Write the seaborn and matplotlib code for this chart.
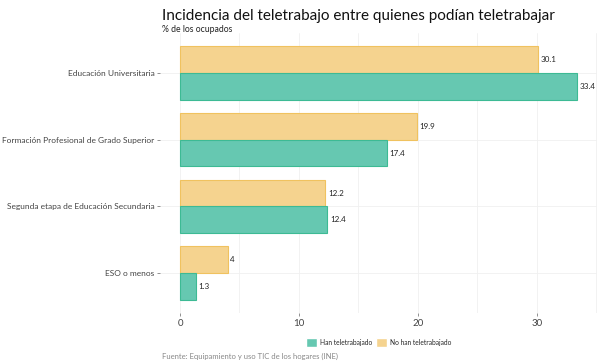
import pandas as pd
import numpy as np
import seaborn as sns
import matplotlib.pyplot as plt
from matplotlib.ticker import MultipleLocator

# datos
categorias = ['Educación Universitaria', 'Formación Profesional de Grado Superior',
              'Segunda etapa de Educación Secundaria', 'ESO o menos']
han_teletrabajado = [33.4, 17.4, 12.4, 1.3]
no_han_teletrabajado = [30.1, 19.9, 12.2, 4]
series = ['Han teletrabajado', 'No han teletrabajado']

df = pd.DataFrame({
    'nivel': categorias * 2,
    'valor': han_teletrabajado + no_han_teletrabajado,
    'grupo': [series[0]] * 4 + [series[1]] * 4,
})

sns.set_theme(style='white')
plt.rcParams['font.family'] = ['Lato', 'DejaVu Sans']

fig = plt.figure(figsize=(6, 3.64), dpi=100)
ax = fig.add_axes([0.267, 0.14, 0.728, 0.769])

colores = {'Han teletrabajado': '#66c8b1', 'No han teletrabajado': '#f5d38f'}
bordes = {'Han teletrabajado': '#3dba94', 'No han teletrabajado': '#f0c25f'}

sns.barplot(data=df, y='nivel', x='valor', hue='grupo',
            hue_order=['No han teletrabajado', 'Han teletrabajado'],
            order=categorias, palette=colores, width=0.8,
            orient='h', ax=ax, saturation=1, legend=True)

# bordes y etiquetas
for cont, grupo in zip(ax.containers, ['No han teletrabajado', 'Han teletrabajado']):
    for bar in cont:
        bar.set_edgecolor(bordes[grupo])
        bar.set_linewidth(0.8)
    ax.bar_label(cont, labels=[f'{v:g}' for v in cont.datavalues],
                 padding=2, fontsize=5.8, color='#222222')

ax.set_xlim(-1.67, 35.07)
ax.set_ylim(3.6, -0.6)
ax.xaxis.set_major_locator(MultipleLocator(10))
ax.xaxis.set_minor_locator(MultipleLocator(5))
ax.grid(True, which='both', axis='x', color='#f0f0f0', linewidth=0.6)
ax.grid(True, which='major', axis='y', color='#f0f0f0', linewidth=0.6)
ax.set_axisbelow(True)
for s in ax.spines.values():
    s.set_visible(False)
ax.set_xlabel('')
ax.set_ylabel('')
ax.tick_params(axis='both', which='major', length=2.5, width=0.5, color='#666666',
               labelsize=6, labelcolor='#444444', pad=1.5, left=True, bottom=True)
ax.tick_params(axis='x', which='minor', length=0)
ax.tick_params(axis='x', labelsize=7, pad=2)

# leyenda
handles, labels = ax.get_legend_handles_labels()
ax.legend(handles[::-1], labels[::-1], loc='center', bbox_to_anchor=(0.5, -0.105),
          ncol=2, frameon=False, fontsize=4.8, handlelength=1.7, handleheight=1.7,
          columnspacing=0.6, handletextpad=0.4)

fig.text(0.27, 0.975, 'Incidencia del teletrabajo entre quienes podían teletrabajar',
         fontsize=11, ha='left', va='top', color='#111111')
fig.text(0.27, 0.93, '% de los ocupados', fontsize=6.2, ha='left', va='top', color='#222222')
fig.text(0.27, 0.01, 'Fuente: Equipamiento y uso TIC de los hogares (INE)',
         fontsize=5.5, ha='left', va='bottom', color='#888888')

fig.savefig('out.png', dpi=100)
